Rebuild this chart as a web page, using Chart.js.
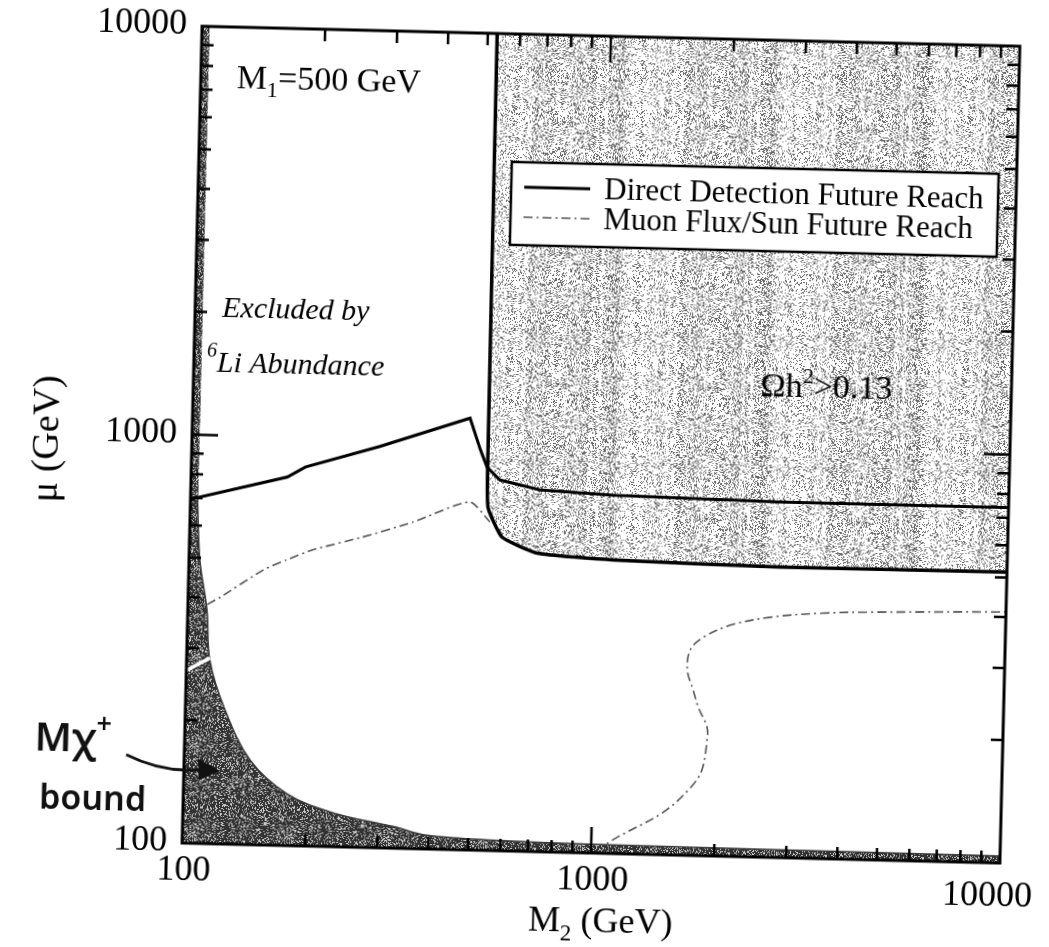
<!DOCTYPE html>
<html><head><meta charset="utf-8">
<script src="https://cdn.jsdelivr.net/npm/chart.js@4.4.1/dist/chart.umd.min.js"></script>
<style>
html,body{margin:0;padding:0;background:#fff;overflow:hidden;width:1049px;height:947px}
#wrap{position:absolute;left:0;top:0;width:1049px;height:947px;transform-origin:595px 443px;transform:rotate(1.4deg)}
canvas{display:block}
</style></head><body>
<div id="wrap"><canvas id="c" width="1049" height="947"></canvas></div>
<script>
// ---------- data ----------
const axisMin = 100, axisMax = 10000;
const majorTicks = [100, 1000, 10000];
const minorTicks = [200,300,400,500,600,700,800,900,2000,3000,4000,5000,6000,7000,8000,9000];
const xTickLabels = ['100', '1000', '10000'];
const yTickLabels = ['100', '1000', '10000'];
const legendLabels = ['Direct Detection Future Reach', 'Muon Flux/Sun Future Reach'];

// Direct detection future reach (solid)
const ddM2 = [100, 172, 190, 288, 477, 508, 528, 569, 714, 1078, 2760, 10000];
const ddMu = [695, 798, 846, 960, 1140, 955, 868, 808, 768, 753, 742, 742];

// Muon flux / Sun future reach (dash-dot), two visible pieces
const muLeftM2 = [111.5, 120, 152, 173, 200, 265, 351, 482, 541];
const muLeftMu = [385, 402, 471, 500, 531, 575, 630, 711, 637];
const muRightM2 = [1040, 1112, 1492, 1730, 1845, 1892, 1888, 1792, 1738, 1677, 1699, 1815, 2123, 2700, 3575, 4733, 10000];
const muRightMu = [100, 107, 127, 146, 162, 192, 207, 231, 254, 284, 318, 341, 368, 388, 399, 404, 412];

// Omega h^2 > 0.13 region boundary (filled above)
const omM2 = [527, 530, 534, 580, 708, 1089, 2786, 10000];
const omMu = [10000, 950, 693, 586, 538, 523, 514, 516];

// chargino mass bound region boundary (filled below)
const chM2 = [104, 106.3, 111.4, 114, 125, 145, 179, 233, 327, 396, 598, 1000, 10000];
const chMu = [700, 494, 373, 281, 213, 161, 134, 121, 113, 108, 106, 105, 104];

// 6Li abundance excluded strip
const liM2 = [100, 104.5];
const liMu = [10000, 10000];

// white line crossing the strip
const whM2 = [100.3, 114];
const whMu = [265, 285];

// ---------- helpers ----------
const pts = (xs, ys) => xs.map((v, i) => ({x: v, y: ys[i]}));
function hash(x, y, s) {
  let n = Math.imul(x, 374761393) + Math.imul(y, 668265263) + Math.imul(s, 982451653);
  n = Math.imul(n ^ (n >>> 13), 1274126177);
  n = n ^ (n >>> 16);
  return (n >>> 0) / 4294967295;
}
function makePattern(ctx, w, h, base, spread, dark, light, seed) {
  const c = document.createElement('canvas'); c.width = w; c.height = h;
  const g = c.getContext('2d');
  const img = g.createImageData(w, h);
  for (let yy = 0; yy < h; yy++) for (let xx = 0; xx < w; xx++) {
    const col = hash(Math.floor(xx / 4), 0, seed + 5);
    const d = base + spread * (col - 0.5);
    const v = hash(xx, yy, seed) < d ? dark : light;
    const k = (yy * w + xx) * 4;
    img.data[k] = img.data[k+1] = img.data[k+2] = v; img.data[k+3] = 255;
  }
  g.putImageData(img, 0, 0);
  return ctx.createPattern(c, 'repeat');
}
const SERIF = '"Liberation Serif", "Times New Roman", serif';
const hand = px => '600 ' + px + 'px "Noto Sans", sans-serif';
function rich(ctx, x, y, parts) {
  let cx = x;
  for (const p of parts) {
    ctx.font = p.f;
    ctx.fillText(p.t, cx, y + (p.dy || 0));
    cx += ctx.measureText(p.t).width;
  }
  return cx - x;
}
function richWidth(ctx, parts) {
  let w = 0;
  for (const p of parts) { ctx.font = p.f; w += ctx.measureText(p.t).width; }
  return w;
}

const canvas = document.getElementById('c');
const ctx = canvas.getContext('2d');
const lightPat = makePattern(ctx, 152, 131, 0.27, 0.26, 105, 255, 11);
const darkPat = makePattern(ctx, 97, 89, 0.74, 0.12, 50, 200, 23);

const muDash = [9, 4, 2, 4];

const deco = {
  id: 'deco',
  beforeDraw(chart) {
    const c = chart.ctx;
    c.save(); c.fillStyle = '#fff'; c.fillRect(0, 0, chart.width, chart.height); c.restore();
  },
  afterDatasetsDraw(chart) {
    const c = chart.ctx, a = chart.chartArea, sx = chart.scales.x, sy = chart.scales.y;
    c.save();
    c.strokeStyle = '#000'; c.fillStyle = '#000';
    // frame
    c.lineWidth = 3;
    c.strokeRect(a.left, a.top, a.right - a.left, a.bottom - a.top);
    // inward ticks on all four sides
    c.lineWidth = 2.5;
    const drawTicks = (vals, len) => {
      for (const v of vals) {
        const px = sx.getPixelForValue(v), py = sy.getPixelForValue(v);
        c.beginPath();
        c.moveTo(px, a.bottom); c.lineTo(px, a.bottom - len);
        c.moveTo(px, a.top); c.lineTo(px, a.top + len);
        c.moveTo(a.left, py); c.lineTo(a.left + len, py);
        c.moveTo(a.right, py); c.lineTo(a.right - len, py);
        c.stroke();
      }
    };
    drawTicks(minorTicks, 12);
    drawTicks(majorTicks.slice(1, 2), 26);

    // tick labels
    c.font = '36px ' + SERIF;
    c.textBaseline = 'middle';
    c.textAlign = 'right';
    majorTicks.forEach((v, i) => c.fillText(yTickLabels[i], a.left - 15, sy.getPixelForValue(v) - 1));
    c.textAlign = 'center';
    majorTicks.forEach((v, i) => {
      const w = c.measureText(xTickLabels[i]).width;
      const cx = Math.min(sx.getPixelForValue(v) + 2, chart.width - 6 - w / 2);
      c.fillText(xTickLabels[i], cx, a.bottom + 28 + (i === 2 ? 6 : 0));
    });

    // axis titles
    c.textBaseline = 'alphabetic';
    c.textAlign = 'left';
    const xt = [{t: 'M', f: '36px ' + SERIF}, {t: '2', f: '23px ' + SERIF, dy: 9}, {t: ' (GeV)', f: '36px ' + SERIF}];
    const xw = richWidth(c, xt);
    rich(c, 612 - xw / 2, 932, xt);
    c.save();
    c.translate(58, 452); c.rotate(-Math.PI / 2);
    c.font = '38px ' + SERIF; c.textAlign = 'center';
    c.fillText('\u03bc (GeV)', 0, 0);
    c.restore();

    // in-plot labels
    c.textAlign = 'left';
    rich(c, 228, 97, [{t: 'M', f: '34px ' + SERIF}, {t: '1', f: '22px ' + SERIF, dy: 8}, {t: '=500 GeV', f: '34px ' + SERIF}]);
    rich(c, 219, 326, [{t: 'Excluded by', f: 'italic 30px ' + SERIF}]);
    rich(c, 205, 381, [{t: '6', f: 'italic 20px ' + SERIF, dy: -15}, {t: 'Li Abundance', f: 'italic 30px ' + SERIF}]);
    rich(c, 759, 392, [{t: '\u03a9h', f: '34px ' + SERIF}, {t: '2', f: '22px ' + SERIF, dy: -14}, {t: '>0.13', f: '34px ' + SERIF}]);

    // handwritten annotation + arrow
    c.fillStyle = '#111';
    rich(c, 42, 764, [{t: 'M\u03c7', f: hand(40)}, {t: '+', f: hand(27), dy: -19}]);
    rich(c, 48, 822, [{t: 'bound', f: hand(34)}]);
    c.strokeStyle = '#111'; c.lineWidth = 3;
    c.beginPath(); c.moveTo(134, 766); c.quadraticCurveTo(172, 784, 212, 779); c.stroke();
    c.beginPath(); c.moveTo(228, 780); c.lineTo(206, 768); c.lineTo(207, 790); c.closePath(); c.fill();

    // legend box
    const L = 505, T = 164, R = 992, B = 247;
    c.fillStyle = '#fff'; c.fillRect(L, T, R - L, B - T);
    c.strokeStyle = '#000'; c.lineWidth = 2.5; c.strokeRect(L, T, R - L, B - T);
    const ds = chart.data.datasets;
    const rows = [{d: ds[1], y: 189, ty: 199}, {d: ds[4], y: 219, ty: 229}];
    rows.forEach((r, i) => {
      c.save();
      c.strokeStyle = r.d.borderColor; c.lineWidth = r.d.borderWidth;
      c.setLineDash(r.d.borderDash || []);
      c.beginPath(); c.moveTo(518, r.y); c.lineTo(584, r.y); c.stroke();
      c.restore();
      c.fillStyle = '#000'; c.font = '31px ' + SERIF; c.textAlign = 'left';
      c.fillText(legendLabels[i], 598, r.ty);
    });
    c.restore();
  }
};

new Chart(ctx, {
  type: 'line',
  data: {
    datasets: [
      {label: 'white', data: pts(whM2, whMu), borderColor: '#fff', borderWidth: 3.5, pointRadius: 0, fill: false, order: 0},
      {label: legendLabels[0], data: pts(ddM2, ddMu), borderColor: '#000', borderWidth: 3, pointRadius: 0, fill: false, tension: 0, order: 1},
      {label: 'chargino bound', data: pts(chM2, chMu), borderColor: '#3a3a3a', borderWidth: 1.5, backgroundColor: darkPat, pointRadius: 0, fill: 'start', tension: 0.35, order: 2},
      {label: 'Li', data: pts(liM2, liMu), borderColor: 'rgba(0,0,0,0)', borderWidth: 0, backgroundColor: darkPat, pointRadius: 0, fill: 'start', order: 3},
      {label: legendLabels[1], data: pts(muLeftM2, muLeftMu), borderColor: '#555', borderWidth: 1.6, borderDash: muDash, pointRadius: 0, fill: false, tension: 0.2, order: 4},
      {label: legendLabels[1] + ' (2)', data: pts(muRightM2, muRightMu), borderColor: '#555', borderWidth: 1.6, borderDash: muDash, pointRadius: 0, fill: false, tension: 0.35, order: 4},
      {label: 'Omega', data: pts(omM2, omMu), borderColor: '#000', borderWidth: 3.5, backgroundColor: lightPat, pointRadius: 0, fill: 'end', tension: 0.15, order: 5}
    ]
  },
  options: {
    responsive: false, animation: false, devicePixelRatio: 1,
    layout: {padding: {top: 36, right: 39, left: 0, bottom: 0}},
    plugins: {legend: {display: false}, tooltip: {enabled: false}},
    scales: {
      x: {type: 'logarithmic', min: axisMin, max: axisMax, ticks: {display: false}, grid: {display: false}, border: {display: false},
          afterFit: s => { s.height = 94; }},
      y: {type: 'logarithmic', min: axisMin, max: axisMax, ticks: {display: false}, grid: {display: false}, border: {display: false},
          afterFit: s => { s.width = 192; }}
    }
  },
  plugins: [deco]
});
</script>
</body></html>
